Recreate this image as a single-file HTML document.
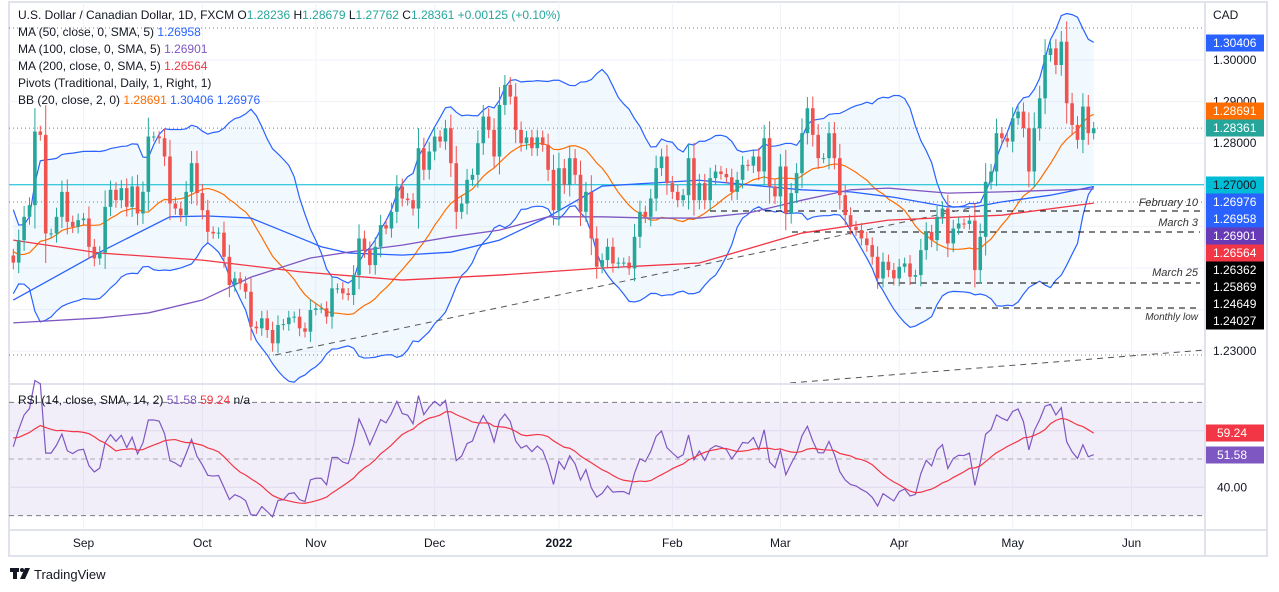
<!DOCTYPE html>
<html><head><meta charset="utf-8"><style>
html,body{margin:0;padding:0;background:#fff;}
svg{display:block;font-family:"Liberation Sans",sans-serif;}
</style></head><body>
<svg id="chart" width="1279" height="592" viewBox="0 0 1279 592" xmlns="http://www.w3.org/2000/svg">
<rect x="0" y="0" width="1279" height="592" fill="#fff"/>
<rect x="9" y="2" width="1258" height="554" fill="none" stroke="#e0e3eb" stroke-width="2"/>
<g id="grid"></g>
<g id="bbg"></g>
<g id="levels"></g>
<g id="mas"></g>
<g id="candles"></g>
<g id="rsig"></g>
<g id="axes"></g>
<g font-size="12" fill="#131722">
<text x="18" y="19">U.S. Dollar / Canadian Dollar, 1D, FXCM  O<tspan fill="#26a69a">1.28236</tspan>  H<tspan fill="#26a69a">1.28679</tspan>  L<tspan fill="#26a69a">1.27762</tspan>  C<tspan fill="#26a69a">1.28361 +0.00125 (+0.10%)</tspan></text>
<text x="18" y="36">MA (50, close, 0, SMA, 5)  <tspan fill="#2962ff">1.26958</tspan></text>
<text x="18" y="53">MA (100, close, 0, SMA, 5)  <tspan fill="#7e57c2">1.26901</tspan></text>
<text x="18" y="70">MA (200, close, 0, SMA, 5)  <tspan fill="#f23645">1.26564</tspan></text>
<text x="18" y="87">Pivots (Traditional, Daily, 1, Right, 1)</text>
<text x="18" y="104">BB (20, close, 2, 0)  <tspan fill="#ff6d00">1.28691</tspan>  <tspan fill="#2962ff">1.30406  1.26976</tspan></text>
<text x="18" y="404">RSI (14, close, SMA, 14, 2)  <tspan fill="#7e57c2">51.58</tspan>  <tspan fill="#f23645">59.24</tspan>  n/a</text>
<text x="1213" y="19">CAD</text>
</g>
<g>
<rect x="10" y="568" width="9" height="4" fill="#131722"/><rect x="13" y="568" width="4" height="11" fill="#131722"/>
<circle cx="22" cy="570" r="2" fill="#131722"/><polygon points="25,568 30,568 25,579 20,579" fill="#131722"/>
<text x="34" y="579" font-size="13" fill="#131722">TradingView</text>
</g>
</svg>
<script>
const preCloses=[1.2380,1.2450,1.2480,1.2530,1.2450,1.2460,1.2500,1.2520,1.2600,1.2620,1.2680,1.2700,1.2620,1.2570,1.2560,1.2540,1.2520,1.2490,1.2460,1.2480,1.2530,1.2540,1.2560,1.2550,1.2560,1.2530,1.2520,1.2510,1.2500,1.2530];
const closes=[1.2513,1.2567,1.2623,1.2651,1.2828,1.2820,1.2583,1.2583,1.2623,1.2683,1.2611,1.2599,1.2615,1.2619,1.2551,1.2523,1.2537,1.2647,1.2688,1.2663,1.2692,1.2647,1.2696,1.2631,1.2683,1.2816,1.2816,1.2812,1.2768,1.2655,1.2643,1.2627,1.2683,1.2752,1.2680,1.2639,1.2587,1.2583,1.2585,1.2527,1.2459,1.2475,1.2463,1.2443,1.2359,1.2355,1.2379,1.2351,1.2319,1.2363,1.2365,1.2381,1.2383,1.2355,1.2347,
1.2399,1.2403,1.2403,1.2383,1.2451,1.2451,1.2439,1.2435,1.2483,1.2571,1.2543,1.2507,1.2551,1.2603,1.2595,1.2635,1.2696,1.2667,1.2663,1.2643,1.2788,1.2736,1.2780,1.2816,1.2804,1.2836,1.2752,1.2635,1.2655,1.2712,1.2724,1.2800,1.2864,1.2832,1.2768,1.2892,1.2940,1.2912,1.2832,1.2800,1.2814,1.2788,1.2814,1.2796,1.2736,1.2639,1.2740,1.2700,1.2764,1.2724,1.2635,1.2683,1.2571,1.2503,
1.2519,1.2551,1.2511,1.2513,1.2513,1.2499,1.2575,1.2635,1.2623,1.2667,1.2740,1.2768,1.2704,1.2683,1.2663,1.2675,1.2764,1.2663,1.2704,1.2663,1.2716,1.2732,1.2726,1.2718,1.2683,1.2712,1.2748,1.2746,1.2768,1.2732,1.2812,1.2696,1.2672,1.2744,1.2631,1.2680,1.2728,1.2824,1.2884,1.2820,1.2764,1.2764,1.2824,1.2764,1.2675,1.2627,1.2599,1.2591,1.2571,1.2555,1.2527,1.2475,1.2515,1.2495,
1.2475,1.2503,1.2511,1.2479,1.2483,1.2543,1.2587,1.2567,1.2623,1.2643,1.2559,1.2595,1.2607,1.2606,1.2614,1.2495,1.2575,1.2707,1.2732,1.2824,1.2812,1.2804,1.2860,1.2876,1.2836,1.2732,1.2836,1.2908,1.3012,1.3028,1.2988,1.3044,1.2896,1.2844,1.2808,1.2888,1.2824,1.2836];
const ma50Idx=[0,16,29,36,44,55,57,62,72,81,90,99,109,118,127,136,146,155,163,173,178,183,192,200];
const ma50Val=[1.2423,1.2538,1.2623,1.2625,1.2620,1.2562,1.2551,1.2536,1.2531,1.2538,1.2567,1.2623,1.2697,1.2704,1.2711,1.2700,1.2688,1.2683,1.2670,1.2647,1.2647,1.2659,1.2675,1.2696];
const ma100Idx=[0,16,25,35,44,55,62,72,81,90,99,109,118,127,136,146,155,162,173,183,200];
const ma100Val=[1.2368,1.2380,1.2392,1.2423,1.2478,1.2524,1.2538,1.2555,1.2575,1.2591,1.2623,1.2623,1.2620,1.2620,1.2632,1.2663,1.2688,1.2692,1.2680,1.2683,1.2690];
const ma200Idx=[0,16,35,53,72,90,109,127,146,162,183,200];
const ma200Val=[1.2567,1.2536,1.2519,1.2491,1.2471,1.2483,1.2500,1.2512,1.2584,1.2615,1.2627,1.2656];
const priceTicks=[1.30,1.29,1.28,1.23];
const rsiTicks=[40];
const monthLabels=["Sep","Oct","Nov","Dec","2022","Feb","Mar","Apr","May","Jun"];
const monthBars=[13,35,56,78,101,122,142,164,185,207];

const NS="http://www.w3.org/2000/svg";
function el(tag,attrs,parent){const e=document.createElementNS(NS,tag);for(const k in attrs)e.setAttribute(k,attrs[k]);parent.appendChild(e);return e;}
const X=i=>13.3+i*5.402;
const Y=p=>60+(1.30-p)*4160;
const RY=v=>459-(v-50)*2.83;
const G=id=>document.getElementById(id);

// grid
const grid=G('grid');
for(let p=1.23;p<=1.3001;p+=0.01){const l=el('line',{x1:9,x2:1205,y1:Y(p),y2:Y(p),stroke:'#f0f3fa'},grid);}
[60,40].forEach(v=>{const l=el('line',{x1:9,x2:1205,y1:RY(v),y2:RY(v),stroke:'#ebe8f3'},grid);});
monthBars.forEach(b=>{const l=el('line',{x1:X(b),x2:X(b),y1:2,y2:530,stroke:'#f0f3fa'},grid);});

// all closes
const all=preCloses.concat(closes);const off=preCloses.length;
// BB
const up=[],mid=[],lo=[];
for(let i=0;i<closes.length;i++){const j=i+off;const w=all.slice(j-19,j+1);const m=w.reduce((a,b)=>a+b,0)/20;const sd=Math.sqrt(w.reduce((a,b)=>a+(b-m)*(b-m),0)/20);mid.push(m);up.push(m+2*sd);lo.push(m-2*sd);}
const bbg=G('bbg');
let poly=up.map((v,i)=>X(i)+','+Y(v)).join(' ')+' '+lo.map((v,i)=>X(i)+','+Y(v)).reverse().join(' ');
const bf=el('polygon',{points:poly,fill:'#2196f3','fill-opacity':0.06},bbg);

[[up,'#2962ff','bb-upper'],[lo,'#2962ff','bb-lower'],[mid,'#ff6d00','bb-basis']].forEach(([a,c,n])=>{const p=el('polyline',{points:a.map((v,i)=>X(i)+','+Y(v)).join(' '),fill:'none',stroke:c,'stroke-width':1.2},bbg);});

// levels
const lv=G('levels');
function hline(y,x1,x2,c,dash,name){const l=el('line',{x1:x1,x2:x2,y1:y,y2:y,stroke:c,'stroke-dasharray':dash,'stroke-width':1},lv);}
hline(28,9,1205,'#787b86','1,3','pivot-r1');
hline(Y(1.28361),9,1205,'#26a69a','1,3','last-price-line');
hline(Y(1.27),9,1205,'#00bcd4','','level-1-27');
hline(202,9,1205,'#787b86','1,3','pivot-p');
hline(355,9,1205,'#787b86','1,3','pivot-s1');
hline(211,710,1200,'#000','6,5','feb10-level');
hline(232,792,1200,'#000','6,5','mar3-level');
hline(283,877,1200,'#000','6,5','mar25-level');
hline(308,915,1200,'#000','6,5','monthly-low-level');
const t1=el('line',{x1:275,y1:355,x2:975,y2:207,stroke:'#555','stroke-dasharray':'6,5'},lv);
const t2=el('line',{x1:790,y1:383,x2:1205,y2:350,stroke:'#555','stroke-dasharray':'6,5'},lv);
[['February 10',1198,206,11],['March 3',1198,226,11],['March 25',1198,276,11],['Monthly low',1198,320,10]].forEach(([t,x,y,s])=>{const e=el('text',{x:x,y:y,'text-anchor':'end','font-size':s,fill:'#333','font-style':'italic'},lv);e.textContent=t;});

// MAs
const mg=G('mas');
[[ma50Idx,ma50Val,'#2962ff','ma-50'],[ma100Idx,ma100Val,'#7e57c2','ma-100'],[ma200Idx,ma200Val,'#f23645','ma-200']].forEach(([ix,vs,c,n])=>{const p=el('polyline',{points:ix.map((b,k)=>X(b)+','+Y(vs[k])).join(' '),fill:'none',stroke:c,'stroke-width':1.3},mg);});

// candles
const cg=G('candles');
for(let i=0;i<closes.length;i++){const o=all[i+off-1],c=closes[i];const up_=c>=o;const col=up_?'#26a69a':'#ef5350';const w=0.0012+Math.abs(c-o)*0.25;const h=Math.max(o,c)+w,l=Math.min(o,c)-w;
const g=el('g',{},cg);
el('line',{x1:X(i),x2:X(i),y1:Y(h),y2:Y(l),stroke:col,'stroke-width':1},g);
el('rect',{x:X(i)-1.8,y:Y(Math.max(o,c)),width:3.6,height:Math.max(1,Math.abs(Y(o)-Y(c))),fill:col},g);}

// RSI
const rg=G('rsig');
const bgR=el('rect',{x:9,y:RY(70),width:1196,height:RY(30)-RY(70),fill:'#7e57c2','fill-opacity':0.1},rg);
el('line',{x1:9,x2:1205,y1:384,y2:384,stroke:'#e0e3eb','stroke-width':2},rg);
[70,50,30].forEach(v=>{const l=el('line',{x1:9,x2:1205,y1:RY(v),y2:RY(v),stroke:'#787b86','stroke-dasharray':v==50?'5,4':'5,4','stroke-opacity':v==50?0.6:1},rg);});
let ag=0,al=0;const rsi=[];
for(let j=1;j<all.length;j++){const d=all[j]-all[j-1];const g_=Math.max(d,0),l_=Math.max(-d,0);
 if(j<=14){ag+=g_/14;al+=l_/14;}else{ag=(ag*13+g_)/14;al=(al*13+l_)/14;}
 rsi[j]=j>=14?(al===0?100:100-100/(1+ag/al)):null;}
const rma=[];for(let j=0;j<all.length;j++){if(j>=27){let s=0;for(let k=j-13;k<=j;k++)s+=rsi[k];rma[j]=s/14;}else rma[j]=null;}
const rp=el('polyline',{points:closes.map((c,i)=>X(i)+','+RY(rsi[i+off])).join(' '),fill:'none',stroke:'#7e57c2','stroke-width':1.2},rg);
const rm=el('polyline',{points:closes.map((c,i)=>X(i)+','+RY(rma[i+off])).join(' '),fill:'none',stroke:'#f23645','stroke-width':1.2},rg);

// axes
const ax=G('axes');
el('line',{x1:1205,x2:1205,y1:2,y2:556,stroke:'#e0e3eb','stroke-width':2},ax);
el('line',{x1:9,x2:1267,y1:530,y2:530,stroke:'#e0e3eb','stroke-width':2},ax);
monthLabels.forEach((m,k)=>{const t=el('text',{x:X(monthBars[k]),y:547,'text-anchor':'middle','font-size':12,fill:'#131722','font-weight':m==='2022'?'bold':'normal'},ax);t.textContent=m;});
priceTicks.forEach(p=>{const t=el('text',{x:1213,y:Y(p)+4,'font-size':12,fill:'#131722'},ax);t.textContent=p.toFixed(5);});
rsiTicks.forEach(v=>{const t=el('text',{x:1217,y:RY(v)+4,'font-size':12,fill:'#131722'},ax);t.textContent=v.toFixed(2);});
const tags=[['1.30406',43,'#2962ff','#fff'],['1.28691',111,'#ff6d00','#fff'],['1.28361',128,'#26a69a','#fff'],['1.27000',185,'#00bcd4','#131722'],['1.26976',202,'#2962ff','#fff'],['1.26958',219,'#2962ff','#fff'],['1.26901',236,'#673ab7','#fff'],['1.26564',253,'#f23645','#fff'],['1.26362',270,'#000','#fff'],['1.25869',287,'#000','#fff'],['1.24649',304,'#000','#fff'],['1.24027',321,'#000','#fff'],['59.24',433,'#f23645','#fff'],['51.58',455,'#7e57c2','#fff']];
tags.forEach(([t,y,bg,fg])=>{const g=el('g',{},ax);
el('rect',{x:1206,y:y-8.5,width:58,height:17,fill:bg},g);const tx=el('text',{x:1213+(t.length<6?4:0),y:y+4,'font-size':12,fill:fg},g);tx.textContent=t;});
</script>
</body></html>
